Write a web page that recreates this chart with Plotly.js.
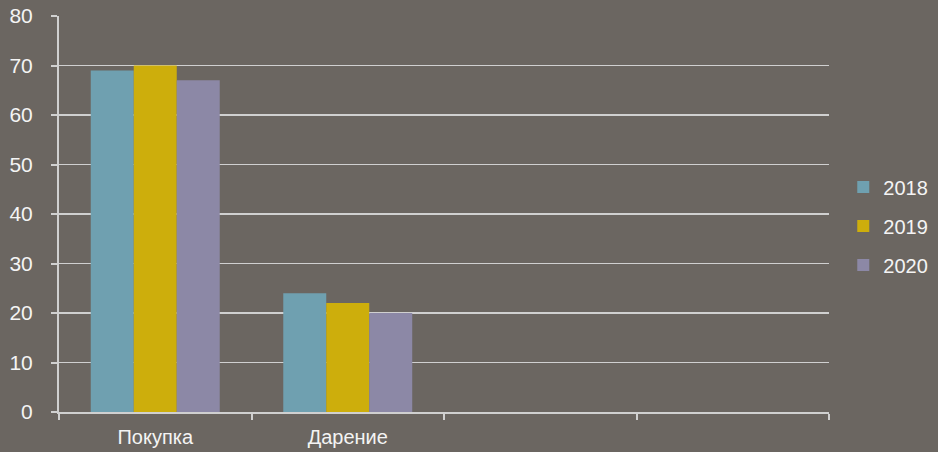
<!DOCTYPE html>
<html>
<head>
<meta charset="utf-8">
<script src="https://cdn.plot.ly/plotly-3.0.1.min.js"></script>
<style>html,body{margin:0;padding:0;background:#6b6661;}#chart{width:938px;height:452px;}</style>
</head>
<body>
<div id="chart"></div>
<script>
const categories = ["Покупка", "Дарение", " ", "  "];
const seriesNames = ["2018", "2019", "2020"];
const values2018 = [69, 24, null, null];
const values2019 = [70, 22, null, null];
const values2020 = [67, 20, null, null];
const colors = ["#6fa0b0", "#cdae0c", "#8c88a6"];
const yTicks = [0, 10, 20, 30, 40, 50, 60, 70, 80];

const allValues = [values2018, values2019, values2020];
const traces = seriesNames.map((name, i) => ({
  type: "bar",
  name: name,
  x: categories,
  y: allValues[i],
  legendgroup: name,
  marker: { color: colors[i], line: { color: colors[i], width: 0 } },
  hoverinfo: "x+y+name"
}));

const layout = {
  width: 938,
  height: 452,
  paper_bgcolor: "#6b6661",
  plot_bgcolor: "#6b6661",
  margin: { l: 59, r: 109, t: 16, b: 40, autoexpand: false },
  barmode: "group",
  bargap: 0.33,
  bargroupgap: 0,
  font: { family: "Liberation Sans, Arial, sans-serif", size: 20, color: "#f4f4f4" },
  showlegend: true,
  legend: {
    xref: "container",
    yref: "container",
    x: 0.899, xanchor: "left",
    y: 0.5, yanchor: "middle",
    traceorder: "grouped",
    tracegroupgap: 10,
    font: { size: 20, color: "#f4f4f4" },
    bgcolor: "rgba(0,0,0,0)",
    itemwidth: 30
  },
  xaxis: {
    type: "category",
    categoryarray: categories,
    range: [-0.5, 3.5],
    tickson: "boundaries",
    ticks: "outside",
    ticklen: 6,
    tickwidth: 2,
    tickcolor: "#d0d0d0",
    showline: true,
    linecolor: "#d0d0d0",
    linewidth: 2,
    showgrid: false,
    ticklabelstandoff: 6,
    fixedrange: true
  },
  yaxis: {
    range: [0, 80],
    tickvals: yTicks,
    ticktext: yTicks.map(String),
    ticks: "outside",
    ticklen: 6,
    tickwidth: 2,
    tickcolor: "#d0d0d0",
    showline: true,
    linecolor: "#d0d0d0",
    linewidth: 2,
    showgrid: true,
    gridcolor: "#d0d0d0",
    gridwidth: 1.5,
    zeroline: false,
    ticklabelstandoff: 14,
    tickfont: { size: 21 },
    fixedrange: true
  }
};

Plotly.newPlot("chart", traces, layout, { displayModeBar: false, staticPlot: true });
</script>
</body>
</html>
